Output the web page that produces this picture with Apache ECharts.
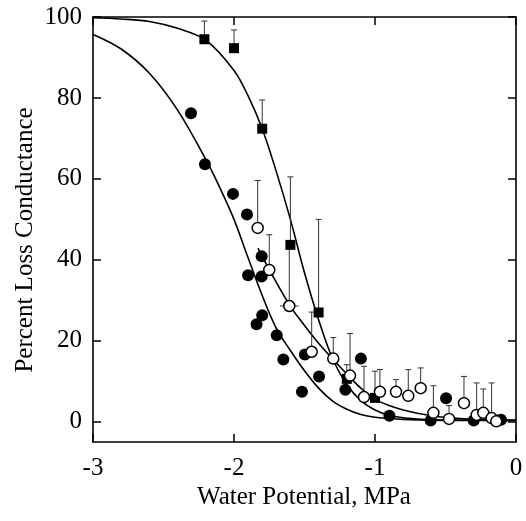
<!DOCTYPE html>
<html>
<head>
<meta charset="utf-8">
<script src="https://cdn.jsdelivr.net/npm/echarts@6/dist/echarts.min.js"></script>
<style>
html,body{margin:0;padding:0;background:#fff;}
#chart{width:526px;height:521px;}
</style>
</head>
<body>
<div id="chart"></div>
<script>
// ---- data ----
const xTicks = [-3, -2, -1, 0];
const yTicks = [0, 20, 40, 60, 80, 100];
const xRange = [-3, 0];
const yRange = [-5, 100];

// filled circles [water potential, PLC]
const filledCircles = [
  [-2.305, 76.2], [-2.206, 63.6], [-2.007, 56.3], [-1.908, 51.2], [-1.804, 40.9],
  [-1.900, 36.2], [-1.804, 35.9], [-1.800, 26.3], [-1.840, 24.1], [-1.697, 21.4],
  [-1.650, 15.4], [-1.497, 16.6], [-1.518, 7.4], [-1.397, 11.2], [-1.210, 7.9],
  [-1.100, 15.6], [-0.898, 1.5], [-0.605, 0.3], [-0.496, 5.8], [-0.300, 0.3],
  [-0.140, 0.3], [-0.106, 0.5]
];

// filled squares [x, y, upper error end]
const squares = [
  [-2.21, 94.5, 99.0], [-2.00, 92.3, 96.8], [-1.80, 72.4, 79.5], [-1.60, 43.7, 60.5],
  [-1.40, 27.0, 50.0], [-1.20, 10.6, 14.1], [-1.00, 5.9, 12.5]
];

// open circles [x, y, upper error end]
const openCircles = [
  [-1.832, 47.9, 59.6], [-1.750, 37.5, 46.2], [-1.608, 28.6, 43.0], [-1.449, 17.3, 27.1],
  [-1.296, 15.6, 20.8], [-1.177, 11.4, 21.8], [-1.078, 6.1, 13.7], [-0.965, 7.4, 12.9],
  [-0.851, 7.4, 10.4], [-0.764, 6.4, 12.9], [-0.676, 8.3, 13.3], [-0.586, 2.2, 8.9],
  [-0.475, 0.7, 4.0], [-0.369, 4.6, 11.2], [-0.279, 1.7, 9.6], [-0.232, 2.2, 8.1],
  [-0.173, 0.9, 9.6], [-0.140, 0.1, 0.1]
];
// horizontal error [x, y, half-width]
const openCircleXErr = [
  [-1.608, 28.6, 0.066]
];

// fitted curves
const curveFilled = [
  [-3, 95.7], [-2.8, 92.1], [-2.6, 86.1], [-2.4, 77.0], [-2.2, 64.8], [-2.1, 57.8],
  [-2.0, 50.0], [-1.9, 40.5], [-1.8, 31.2], [-1.7, 23.1], [-1.6, 17.6], [-1.5, 12.6],
  [-1.4, 8.3], [-1.3, 5.1], [-1.2, 3.1], [-1.1, 1.8], [-1.0, 1.1], [-0.9, 0.8],
  [-0.8, 0.6], [-0.6, 0.4], [-0.3, 0.3], [0, 0.3]
];
const curveSquares = [
  [-3, 99.8], [-2.8, 99.5], [-2.6, 98.9], [-2.4, 97.2], [-2.2, 94.3], [-2.0, 86.8],
  [-1.9, 80.5], [-1.8, 72.4], [-1.7, 61.8], [-1.6, 50.0], [-1.5, 36.8], [-1.4, 25.2],
  [-1.3, 15.5], [-1.2, 9.2], [-1.1, 5.2], [-1.0, 2.9], [-0.9, 1.6], [-0.8, 1.0],
  [-0.7, 0.7], [-0.6, 0.5], [-0.4, 0.4], [0, 0.3]
];
const curveOpen = [
  [-1.83, 42.9], [-1.75, 37.6], [-1.6, 28.5], [-1.5, 23.8], [-1.4, 19.4], [-1.3, 15.5],
  [-1.2, 11.8], [-1.1, 8.3], [-1.0, 5.6], [-0.9, 4.0], [-0.8, 2.9], [-0.7, 2.1],
  [-0.6, 1.5], [-0.5, 1.1], [-0.4, 0.8], [-0.2, 0.5], [0, 0.4]
];

const xTitle = 'Water Potential, MPa';
const yTitle = 'Percent Loss Conductance';

// ---- chart ----
const FONT = '"Liberation Serif", "Times New Roman", serif';
const chart = echarts.init(document.getElementById('chart'), null, {renderer: 'canvas'});

function vErrRender(params, api) {
  const x = api.value(0), y = api.value(1), t = api.value(2);
  if (t <= y) return null;
  const p0 = api.coord([x, y]);
  const p1 = api.coord([x, t]);
  const st = {stroke: '#333', lineWidth: 1};
  return {
    type: 'group',
    children: [
      {type: 'line', shape: {x1: p0[0], y1: p0[1], x2: p1[0], y2: p1[1]}, style: st},
      {type: 'line', shape: {x1: p1[0] - 3, y1: p1[1], x2: p1[0] + 3, y2: p1[1]}, style: st}
    ]
  };
}
function hErrRender(params, api) {
  const x = api.value(0), y = api.value(1), e = api.value(2);
  const pl = api.coord([x - e, y]);
  const pr = api.coord([x + e, y]);
  return {type: 'line', shape: {x1: pl[0], y1: pl[1], x2: pr[0], y2: pr[1]}, style: {stroke: '#333', lineWidth: 1}};
}

const lineStyle = {color: '#000', width: 1.6};
const axisLineStyle = {show: true, onZero: false, lineStyle: {color: '#000', width: 1.6}};
const tickStyle = {color: '#000', width: 1.5};

const option = {
  animation: false,
  backgroundColor: '#fff',
  grid: {left: 93, top: 17, width: 423, height: 425, containLabel: false},
  xAxis: [
    {
      type: 'value', position: 'bottom', min: xRange[0], max: xRange[1], interval: 1,
      axisLine: axisLineStyle, splitLine: {show: false},
      axisTick: {show: true, inside: true, length: 8, lineStyle: tickStyle},
      axisLabel: {show: true, margin: 14, color: '#000', fontFamily: FONT, fontSize: 25}
    },
    {
      type: 'value', position: 'top', min: xRange[0], max: xRange[1], interval: 1,
      axisLine: axisLineStyle, splitLine: {show: false},
      axisTick: {show: true, inside: true, length: 8, lineStyle: tickStyle},
      axisLabel: {show: false}
    }
  ],
  yAxis: [
    {
      type: 'value', position: 'left', min: yRange[0], max: yRange[1],
      axisLine: axisLineStyle, splitLine: {show: false},
      axisTick: {show: true, inside: true, length: 8, customValues: yTicks, lineStyle: tickStyle},
      axisLabel: {show: true, margin: 11, color: '#000', fontFamily: FONT, fontSize: 25, customValues: yTicks}
    },
    {
      type: 'value', position: 'right', min: yRange[0], max: yRange[1],
      axisLine: axisLineStyle, splitLine: {show: false},
      axisTick: {show: true, inside: true, length: 8, customValues: yTicks, lineStyle: tickStyle},
      axisLabel: {show: false}
    }
  ],
  graphic: [
    {type: 'text', x: 304, y: 497, style: {text: xTitle, font: '25px ' + FONT, fill: '#000', textAlign: 'center', textVerticalAlign: 'middle'}},
    {type: 'text', rotation: Math.PI / 2, x: 25, y: 240, style: {text: yTitle, font: '25px ' + FONT, fill: '#000', textAlign: 'center', textVerticalAlign: 'middle'}}
  ],
  series: [
    {type: 'line', data: curveFilled, showSymbol: false, smooth: 0.35, lineStyle: lineStyle, z: 2, silent: true},
    {type: 'line', data: curveSquares, showSymbol: false, smooth: 0.35, lineStyle: lineStyle, z: 2, silent: true},
    {type: 'line', data: curveOpen, showSymbol: false, smooth: 0.35, lineStyle: lineStyle, z: 2, silent: true},
    {type: 'custom', renderItem: vErrRender, data: squares, z: 3, clip: true, encode: {x: 0, y: 1}},
    {type: 'custom', renderItem: vErrRender, data: openCircles, z: 3, clip: true, encode: {x: 0, y: 1}},
    {type: 'custom', renderItem: hErrRender, data: openCircleXErr, z: 3, clip: true, encode: {x: 0, y: 1}},
    {type: 'scatter', data: filledCircles, symbol: 'circle', symbolSize: 12, itemStyle: {color: '#000', opacity: 1}, z: 5},
    {type: 'scatter', data: squares.map(d => [d[0], d[1]]), symbol: 'rect', symbolSize: 10, itemStyle: {color: '#000', opacity: 1}, z: 5},
    {type: 'scatter', data: openCircles.map(d => [d[0], d[1]]), symbol: 'circle', symbolSize: 11, itemStyle: {color: '#fff', borderColor: '#000', borderWidth: 1.5, opacity: 1}, z: 6}
  ]
};
chart.setOption(option);
</script>
</body>
</html>
